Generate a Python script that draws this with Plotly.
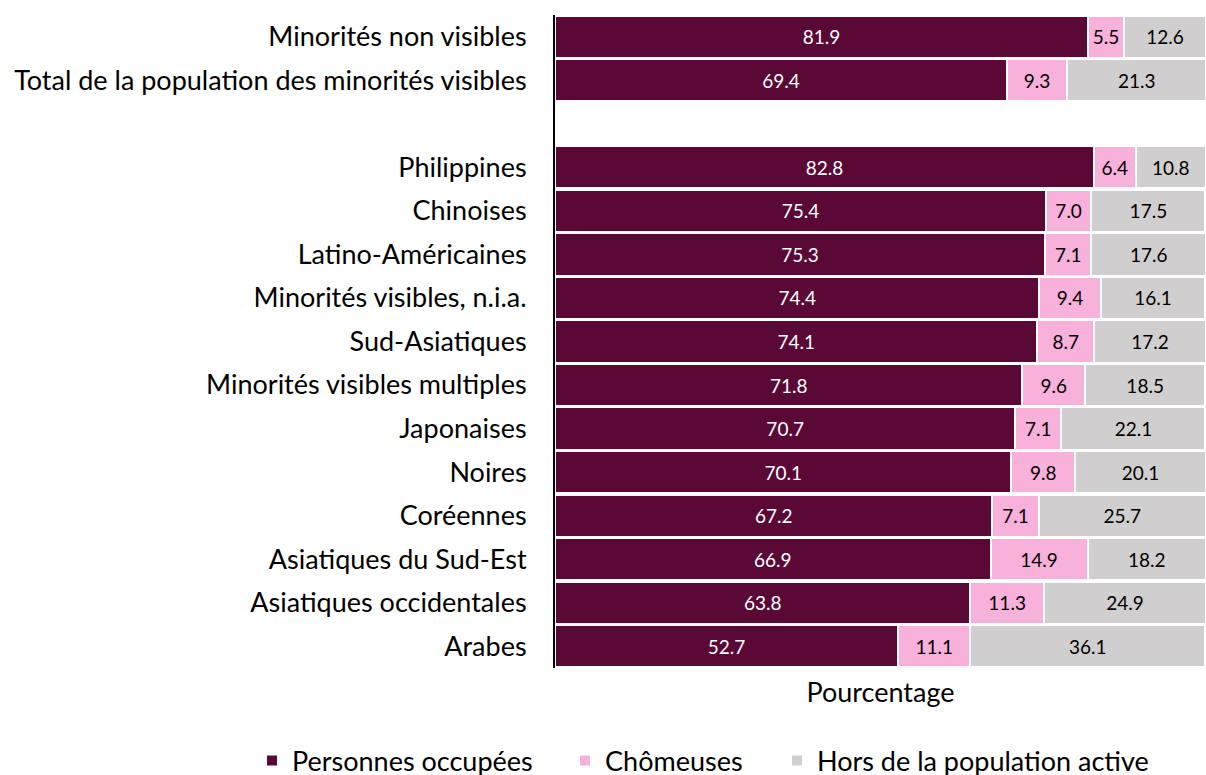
import plotly.graph_objects as go

categories = ["Minorités non visibles", "Total de la population des minorités visibles", " ",
              "Philippines", "Chinoises", "Latino-Américaines", "Minorités visibles, n.i.a.",
              "Sud-Asiatiques", "Minorités visibles multiples", "Japonaises", "Noires",
              "Coréennes", "Asiatiques du Sud-Est", "Asiatiques occidentales", "Arabes"]
occupees = [81.9, 69.4, None, 82.8, 75.4, 75.3, 74.4, 74.1, 71.8, 70.7, 70.1, 67.2, 66.9, 63.8, 52.7]
chomeuses = [5.5, 9.3, None, 6.4, 7.0, 7.1, 9.4, 8.7, 9.6, 7.1, 9.8, 7.1, 14.9, 11.3, 11.1]
hors = [12.6, 21.3, None, 10.8, 17.5, 17.6, 16.1, 17.2, 18.5, 22.1, 20.1, 25.7, 18.2, 24.9, 36.1]
series_names = ["Personnes occupées", "Chômeuses", "Hors de la population active"]
colors = ["#5A0836", "#F7B1DB", "#D0CECE"]
text_colors = ["white", "black", "black"]
legend_ids = ["legend", "legend2", "legend3"]
legend_x = [-0.4654, 0.0154, 0.341]

FONT = "Lato"
fig = go.Figure()
for name, vals, col, tc, lg in zip(series_names, [occupees, chomeuses, hors], colors, text_colors, legend_ids):
    fig.add_trace(go.Bar(
        y=categories, x=vals, name=name, orientation="h",
        marker=dict(color=col, line=dict(color="white", width=2)),
        text=[f"{v:.1f}" if v is not None else "" for v in vals],
        textposition="inside", insidetextanchor="middle",
        textfont=dict(color=tc, size=19, family=FONT),
        width=0.97, legend=lg,
    ))

legend_common = dict(orientation="h", xanchor="left", y=-0.1425, yanchor="middle",
                     font=dict(size=27, family=FONT), itemwidth=30, bgcolor="rgba(0,0,0,0)")
fig.update_layout(
    barmode="stack",
    width=1206, height=775,
    margin=dict(l=555, r=0, t=15, b=107, autoexpand=False),
    plot_bgcolor="white", paper_bgcolor="white",
    font=dict(family=FONT, size=27, color="black"),
    showlegend=True,
    legend=dict(x=legend_x[0], **legend_common),
    legend2=dict(x=legend_x[1], **legend_common),
    legend3=dict(x=legend_x[2], **legend_common),
    uniformtext=dict(minsize=10, mode="show"),
)
fig.update_xaxes(range=[0, 100], showticklabels=False, showgrid=False, zeroline=False,
                 title=dict(text="Pourcentage", font=dict(size=27, family=FONT), standoff=15),
                 fixedrange=True, automargin=False)
fig.update_yaxes(categoryorder="array", categoryarray=categories, autorange="reversed",
                 showline=True, linecolor="black", linewidth=2, showgrid=False,
                 ticks="", ticklabelstandoff=21, tickfont=dict(size=27, family=FONT),
                 automargin=False)
fig.write_html("out.html", config={"displayModeBar": False},
               post_script="document.body.style.margin='0';document.body.style.overflow='hidden';")
